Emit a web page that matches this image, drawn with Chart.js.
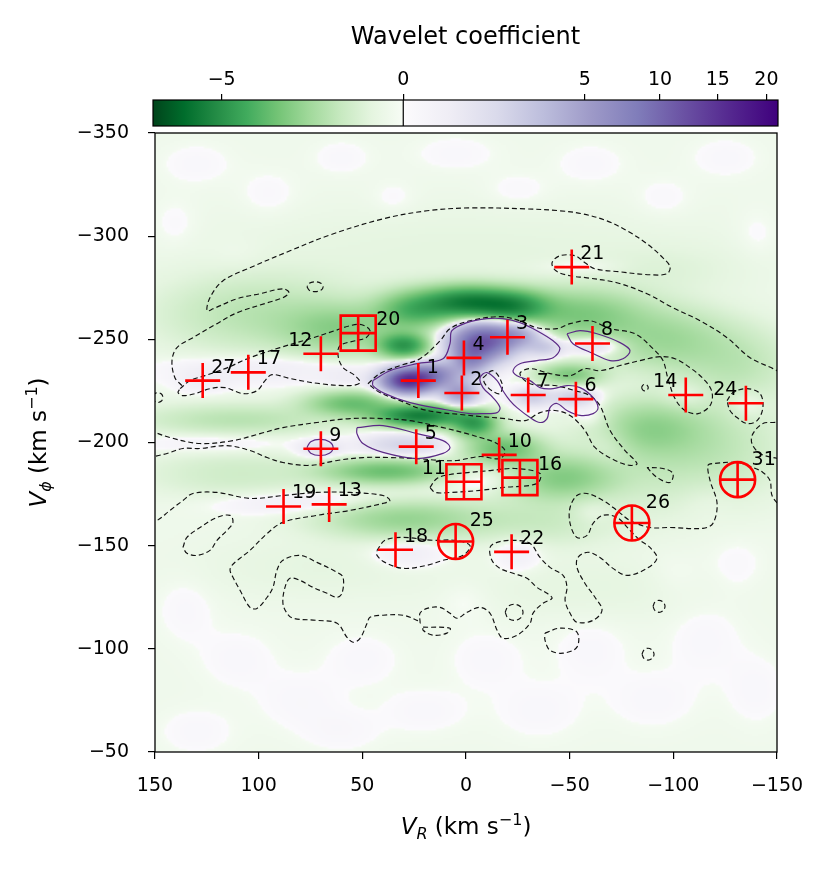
<!DOCTYPE html>
<html>
<head>
<meta charset="utf-8">
<script src="https://cdn.jsdelivr.net/npm/chart.js@4.4.1/dist/chart.umd.min.js"></script>
<style>
  html, body { margin: 0; padding: 0; background: #fff; }
  #wrap { position: relative; width: 830px; height: 869px; }
  #wrap canvas { position: absolute; left: 0; top: 0; }
</style>
</head>
<body>
<div id="wrap">
  <canvas id="main" width="830" height="869"></canvas>
  <canvas id="cbar" width="830" height="135"></canvas>
</div>
<script>
// ---- marked groups ----
const markerId   = [1, 2, 3, 4, 5, 6, 7, 8, 9, 10, 11, 12, 13, 14, 16, 17, 18, 19, 20, 21, 22, 24, 25, 26, 27, 31];
const markerVR   = [23, 2, -20, 1, 24, -53, -30, -61, 70, -16, 1, 70, 66, -106, -26, 105, 34, 88, 52, -51, -22, -135, 5, -80, 127, -131];
const markerVphi = [-230, -224, -251, -241, -198, -221, -223, -248, -197, -194, -181, -243, -170, -223, -183, -234, -148, -169, -253, -285, -147, -219, -152, -161, -230, -182];
const squareIds  = [11, 16, 20];
const circleIds  = [25, 26, 31];
const leftLabelIds = [11, 12, 14, 24];

// ---- colour bar ----
const cbTicks = [-5, 0, 5, 10, 15, 20];
const cMin = -9.5, cMax = 21.3;
const greens  = ['#f7fcf5','#e5f5e0','#c7e9c0','#a1d99b','#74c476','#41ab5d','#238b45','#006d2c','#00441b'];
const purples = ['#fcfbfd','#efedf5','#dadaeb','#bcbddc','#9e9ac8','#807dba','#6a51a3','#54278f','#3f007d'];

// ---- wavelet map, read as smooth blobs (V_R, V_phi, width, height, level) ----
const mapBase = -0.03;
const blobVR     = [28, 15, -8, -25, -38, 3, -2, -32, -52, -62, 30, 70,
                    95, 127, 58, -106, -135, 77, -70, -60, 28, -25, -15, -55, -60, -115, 120,
                    0, -22, 25, 30, 60, -55, -95, 100, -130, 22, -4, 55, -18, -50, -88, 38, 110, 30, -45, -35, -100, 110, 0, -95, -125, 70, -60,
                    130, 95, 60, 35, 5, -25, -60, -95, -125, -140, 140, 110,
                    135, 110, 80, 50, 20, -10, -35, -60, -90, -115, -140, -130, 130, 0, -100, 60];
const blobVphi   = [-230, -233, -249, -252, -246, -224, -240, -222, -222, -247, -199, -197,
                    -236, -230, -231, -222, -219, -171, -200, -213, -147, -147, -183, -285, -167, -175, -200,
                    -268, -266, -264, -247, -255, -262, -250, -262, -238, -213, -209, -219, -197, -233, -207, -186, -211, -163, -183, -162, -190, -185, -292, -283, -200, -140, -130,
                    -335, -320, -338, -318, -340, -322, -335, -318, -338, -300, -305, -290,
                    -120, -95, -75, -95, -70, -95, -70, -100, -75, -105, -80, -140, -60, -125, -135, -60];
const blobWidth  = [8, 8, 10, 8, 6, 6, 6, 6, 7, 9, 13, 7,
                    30, 8, 8, 8, 6, 28, 8, 6, 12, 8, 18, 14, 7, 10, 25,
                    14, 12, 12, 8, 18, 20, 20, 30, 18, 14, 7, 14, 12, 10, 18, 20, 30, 25, 18, 25, 25, 30, 80, 25, 20, 40, 40,
                    12, 10, 10, 8, 14, 11, 12, 10, 12, 8, 8, 10,
                    10, 13, 15, 13, 15, 13, 15, 13, 15, 13, 10, 10, 13, 10, 10, 13];
const blobHeight = [4, 4, 6, 4, 3, 4, 5, 3, 3, 3, 3.5, 3,
                    5, 4, 4, 5, 5, 4, 8, 4, 5, 6, 5, 3, 5, 8, 4,
                    5, 5, 6, 4, 8, 8, 10, 12, 12, 3.5, 4, 4, 5, 3.5, 9, 4, 5, 6, 7, 8, 15, 8, 14, 8, 15, 10, 10,
                    7, 8, 6, 6, 6, 6, 7, 7, 7, 9, 9, 6,
                    12, 10, 10, 9, 8, 10, 10, 12, 10, 14, 12, 10, 8, 8, 8, 7];
const blobLevel  = [15, 6, 11, 4, 2, 5, 5, 2, 2, 1.4, 1.6, 1.0,
                    0.35, 0.3, 0.3, 0.35, 0.35, 0.35, 0.4, 0.4, 0.35, 0.3, 0.45, 0.2, 0.25, 0.15, 0.25,
                    -5.5, -4.5, -3, -4.5, -1.6, -2, -1.3, -0.8, -0.7, -6, -4, -2.5, -2.5, -2, -1.5, -2.5, -0.8, -1.5, -2, -0.5, -0.5, -0.4, -0.12, -0.15, -0.4, -0.1, -0.1,
                    0.06, 0.06, 0.06, 0.06, 0.06, 0.06, 0.06, 0.06, 0.06, 0.06, 0.06, 0.06,
                    0.06, 0.06, 0.06, 0.06, 0.06, 0.06, 0.06, 0.06, 0.06, 0.06, 0.06, 0.06, 0.06, 0.06, 0.06, 0.06];

// ---- zero-level contours (dashed) ----
const contourUpper = [[137,-227.6],[140.4,-231.4],[141.8,-239.7],[139.4,-246],[131.7,-250.8],[120.1,-257.6],[110.4,-262.9],[95.9,-267.7],[88.3,-270.2],[85.4,-272.6],[88.3,-274.5],[99.3,-272.1],[110.4,-269.7],[122,-264.8],[124.9,-263.9],[123.5,-270.2],[117.2,-278.4],[104.2,-284.7],[84.9,-292.9],[65.6,-300.6],[40,-308.4],[18.8,-312.3],[-1.9,-313.7],[-29.4,-313.2],[-45.3,-312.3],[-56.4,-310.8],[-68,-307.4],[-77.7,-302.6],[-87.3,-296.3],[-95,-289.5],[-98.4,-285.2],[-97,-281.8],[-88.7,-281.3],[-74.3,-282.7],[-62.2,-284.2],[-57.4,-287.1],[-52.6,-290.5],[-45.3,-290.5],[-41.5,-287.1],[-43.4,-283.2],[-50.2,-280.8],[-58.4,-279.8],[-72.8,-277.4],[-87.3,-272.1],[-99.8,-265.3],[-112.9,-259],[-125.9,-250.8],[-137,-241.1],[-148.1,-235.8],[-153,-233]];
const contourLeftLobe = [[137.9,-226.1],[133.1,-230],[125.9,-232.4],[116.2,-235.8],[104.2,-241.1],[89.7,-246],[75.2,-250.3],[63.2,-254.2],[55.9,-256.6],[50.2,-257.1],[46.3,-254.2],[48.2,-250.8],[53.5,-249.3],[60.8,-246.9],[61.7,-242.1],[59.3,-236.3],[53.5,-232.4],[51.1,-229],[55.9,-227.6],[70.4,-228.5],[84.9,-231],[93.6,-232.9],[96.9,-230],[100.8,-225.1],[107.6,-223.7],[116.2,-226.6],[123.5,-226.1],[130.7,-223.7],[136.5,-222.7],[138.9,-224.2],[137.9,-226.1]];
const contourCentral = [[47.3,-228.5],[41.5,-233.4],[31.8,-237.3],[22.2,-240.6],[12.5,-249.3],[7.7,-255.2],[-1.9,-259],[-16.4,-261],[-26,-259],[-34.2,-255.6],[-43.9,-255.2],[-50.2,-257.6],[-59.8,-259],[-69.5,-255.2],[-81.5,-252.7],[-90.2,-245.5],[-95,-239.7],[-97.4,-231],[-100.8,-221.3],[-105.6,-215.5],[-111.9,-214],[-117.7,-217.9],[-118.7,-224.2],[-115.3,-230],[-108,-236.3],[-100.8,-240.6],[-93.6,-241.6],[-83.9,-239.7],[-74.3,-237.3],[-64.6,-234.8],[-57.4,-235.8],[-50.2,-232.4],[-40.5,-233.4],[-30.9,-235.8],[-26,-233.4],[-30.9,-228.5],[-42.9,-227.6],[-52.6,-225.1],[-59.8,-222.7],[-64.6,-217.9],[-69.5,-205.8],[-76.7,-196.1],[-82.5,-189.8],[-79.1,-188.9],[-71.9,-191.3],[-62.2,-197.6],[-57.4,-205.8],[-50.2,-213.1],[-42.9,-215.5],[-35.7,-214.5],[-28.5,-210.6],[-18.8,-211.6],[-6.8,-212.6],[2.9,-213.6],[12.5,-214.5],[22.2,-216.4],[31.8,-220.3],[41.5,-224.2],[47.3,-228.5]];
const contourBand = [[152.4,-205.8],[142.8,-202.4],[128.3,-199.5],[112.4,-200.9],[99.3,-204.3],[88.3,-207.2],[71.9,-209.7],[55.9,-211.6],[40,-211.6],[27,-210.6],[11.1,-207.2],[-0.5,-204.3],[-6.8,-202.4],[-14,-200],[-18.8,-196.1],[-16.4,-192.2],[-6.8,-193.2],[4.3,-191.3],[12.5,-191.3],[23.6,-192.2],[36.7,-192.7],[49.7,-192.7],[62.2,-191.3],[75.2,-188.9],[88.3,-190.3],[95.9,-192.7],[104.2,-196.1],[115.3,-198.5],[128.3,-197.1],[136.5,-197.1],[144.2,-194.7],[152.4,-192.7]];
const contourLower = [[152.4,-161.3],[149,-162.2],[142.8,-167.1],[136.5,-171.9],[131.7,-175.3],[120.1,-175.8],[104.2,-172.9],[88.3,-174.3],[71.9,-175.8],[55.9,-175.8],[40,-174.3],[36.7,-171.9],[40,-170.5],[55.9,-167.1],[71.9,-164.7],[88.3,-161.3],[95.9,-155.9],[104.2,-147.7],[109,-143.9],[112.9,-140.5],[113.8,-138.1],[112.4,-134.7],[109,-128.4],[104.2,-120.1],[100.8,-119.6],[95.9,-125],[93.1,-129.8],[91.2,-138.1],[88.3,-142.9],[80.1,-145.3],[71.9,-141.9],[62.2,-137.1],[59.3,-134.7],[59.8,-126.9],[62.2,-125],[67,-126.9],[73.8,-129.8],[80.1,-133.2],[84.9,-134.2],[87.3,-129.8],[88.3,-122.1],[86.3,-117.2],[83.4,-114.8],[71.9,-113.8],[62.2,-112.4],[57.4,-105.6],[54.5,-103.2],[51.1,-105.1],[47.7,-112.4],[46.3,-115.3],[40,-116.3],[30.4,-116.3],[23.6,-113.8],[22.2,-112.4],[22.2,-117.2],[18.8,-119.6],[12.5,-120.1],[7.7,-117.2],[4.3,-114.8],[-0.5,-117.7],[-6.8,-120.1],[-11.6,-117.2],[-15,-109],[-17.8,-105.1],[-24.6,-106.6],[-30.9,-112.4],[-32.3,-117.2],[-37.1,-122.1],[-41.5,-124.5],[-39.1,-126.9],[-34.2,-129.8],[-29.4,-134.2],[-22.7,-136.6],[-16.4,-139],[-12.5,-142.9],[-11.6,-149.2],[-15,-151.6],[-22.7,-152.6],[-30.9,-151.1],[-35.7,-144.3],[-40.5,-139.5],[-46.8,-135.6],[-48.7,-129.8],[-47.8,-123.5],[-50.2,-117.2],[-53.5,-112.9],[-61.3,-113.8],[-65.6,-118.7],[-62.2,-125],[-57.4,-131.7],[-53.5,-139.5],[-54,-144.3],[-58.8,-146.8],[-64.6,-144.3],[-70.9,-139],[-77.7,-135.6],[-87.3,-139],[-92.1,-143.9],[-88.7,-149.2],[-83.9,-152.6],[-79.1,-157.4],[-72.8,-163.7],[-66.1,-164.7],[-61.3,-160.8],[-58.4,-155],[-53.5,-154],[-50.2,-160.8],[-50.2,-168.5],[-53.5,-174.3],[-58.4,-175.3],[-66.1,-171.9],[-72.8,-167.1],[-79.1,-162.2],[-88.7,-158.8],[-98.4,-158.8],[-114.3,-158.4],[-119.1,-160.8],[-121.1,-170.5],[-117.7,-181.6],[-116.7,-188.9],[-119.1,-189.8],[-130.7,-190.3],[-138.4,-187.9],[-143.2,-185.5],[-146.6,-181.6],[-147.6,-174.3],[-151,-169.5]];
const contour18 = [[42.9,-147.7],[39.1,-152.6],[30.4,-154],[15.9,-152.6],[5.3,-152.6],[-1.9,-150.1],[1.4,-145.3],[11.1,-142.9],[18.8,-140.5],[30.4,-139],[39.1,-141.9],[42.9,-145.3],[42.9,-147.7]];
const contour11 = [[17.4,-178.2],[14,-182.6],[7.7,-184.5],[-1.9,-185.5],[-11.6,-186.4],[-23.6,-187.4],[-35.7,-185],[-34.2,-180.1],[-17.8,-178.2],[-6.8,-176.8],[7.7,-175.8],[14.9,-175.8],[17.4,-178.2]];
const contour24 = [[-125.9,-220.3],[-128.8,-224.2],[-135.5,-226.1],[-141.8,-223.7],[-143.2,-216.9],[-140.4,-210.6],[-135.5,-209.2],[-130.7,-212.1],[-127.3,-215.5],[-125.9,-220.3]];
const contourEdge = [[-153,-210],[-148.1,-209.7],[-143.2,-209.2],[-138.4,-204.3],[-137.9,-199.5],[-141.8,-194.7],[-148.1,-192.7],[-153,-192]];
const contourLeftLow = [[136.5,-149.2],[134.6,-154],[128.3,-158.8],[120.1,-163.7],[113.8,-164.7],[112.4,-161.3],[115.3,-157.4],[120.1,-152.6],[123.5,-147.7],[129.7,-145.3],[134.6,-146.3],[136.5,-149.2]];
const contourIn2 = [[-8.2,-231.4],[-13,-234.8],[-17.4,-228.5],[-16.4,-223.7],[-12.5,-225.1],[-9.1,-228.5],[-8.2,-231.4]];
const contourSmall = [
  [[76.7,-275.5],[75.6,-273.8],[72.8,-273.1],[70,-273.8],[68.9,-275.5],[70,-277.2],[72.8,-277.9],[75.6,-277.2],[76.7,-275.5]],
  [[151,-221.8],[150.3,-220.1],[148.6,-219.4],[146.9,-220.1],[146.2,-221.8],[146.9,-223.5],[148.6,-224.2],[150.3,-223.5],[151,-221.8]],
  [[20.7,-110.5],[7.7,-110],[9.2,-107.6],[15.9,-106.6],[20.7,-109],[20.7,-110.5]],
  [[-38.1,-107.6],[-45.3,-110],[-53.5,-108.1],[-53.5,-100.8],[-46.8,-97.9],[-40.5,-99.3],[-38.1,-104.2],[-38.1,-107.6]],
  [[-18.9,-117.7],[-20.2,-114.9],[-23.2,-113.8],[-26.2,-114.9],[-27.5,-117.7],[-26.2,-120.5],[-23.2,-121.6],[-20.2,-120.5],[-18.9,-117.7]],
  [[-90.2,-120.6],[-91.1,-118.6],[-93.1,-117.7],[-95.1,-118.6],[-96,-120.6],[-95.1,-122.6],[-93.1,-123.5],[-91.1,-122.6],[-90.2,-120.6]],
  [[-84.9,-97.4],[-85.8,-95.4],[-87.8,-94.5],[-89.8,-95.4],[-90.7,-97.4],[-89.8,-99.4],[-87.8,-100.3],[-85.8,-99.4],[-84.9,-97.4]],
  [[-84.7,-226.6],[-85.2,-225.5],[-86.3,-225],[-87.4,-225.5],[-87.9,-226.6],[-87.4,-227.7],[-86.3,-228.2],[-85.2,-227.7],[-84.7,-226.6]],
  [[-87.3,-187.9],[-92.1,-183.1],[-98.4,-180.6],[-99.8,-185],[-95,-187.4],[-87.3,-187.9]]
];

// ---- positive-level contours (solid purple) ----
const purpleCentral = [[44.9,-230],[36.7,-234.8],[23.6,-238.2],[11.1,-240.6],[7.7,-247.9],[6.8,-254.2],[-0.5,-258.1],[-10.1,-260],[-17.8,-260],[-26,-258.1],[-34.2,-254.2],[-42,-249.3],[-45.3,-245.5],[-42,-241.1],[-34.2,-239.7],[-26,-238.2],[-22.7,-234.8],[-24.6,-232.4],[-30.9,-230],[-35.7,-226.6],[-42,-226.1],[-48.7,-227.6],[-55,-226.6],[-61.3,-221.8],[-63.7,-216.9],[-61.3,-214],[-55,-213.1],[-48.7,-215.5],[-43.9,-218.9],[-40.5,-216.9],[-39.1,-211.6],[-35.7,-209.7],[-30.9,-212.1],[-24.6,-216.9],[-21.2,-220.3],[-17.8,-225.1],[-15,-230],[-10.1,-233.9],[-6.8,-231.4],[-8.2,-226.6],[-13,-221.8],[-16.4,-216.9],[-15,-214.5],[-8.2,-214],[-1.9,-214],[12.5,-216.4],[27,-219.3],[39.1,-223.7],[44.9,-227.6],[44.9,-230]];
const purple8 = [[-48.7,-252.7],[-55,-254.2],[-63.2,-252.7],[-74.3,-248.4],[-79.1,-244.5],[-75.7,-240.6],[-69.5,-239.7],[-61.3,-243.1],[-51.6,-247.9],[-48.7,-252.7]];
const purple5 = [[52.6,-207.2],[40,-208.2],[23.6,-204.3],[11.1,-200.9],[7.7,-197.6],[11.1,-194.7],[23.6,-192.2],[40,-195.2],[49.7,-199.5],[52.6,-204.3],[52.6,-207.2]];
const purple9 = [[76.7,-197.6],[74.9,-194.8],[70.4,-193.7],[65.9,-194.8],[64.1,-197.6],[65.9,-200.4],[70.4,-201.5],[74.9,-200.4],[76.7,-197.6]];

const dashedContours = [contourUpper, contourLeftLobe, contourCentral, contourBand, contourLower, contour18, contour11,
  contour24, contourEdge, contourLeftLow, contourIn2, ...contourSmall];
const solidContours = [purpleCentral, purple8, purple5, purple9];

Chart.defaults.font.family = "'DejaVu Sans', sans-serif";
Chart.defaults.color = '#000';

const fmt = v => (v < 0 ? '\u2212' + Math.abs(v) : String(v));
const sq = v => Math.sign(v) * Math.sqrt(Math.abs(v));

function hexRgb(h) {
  return [parseInt(h.slice(1, 3), 16), parseInt(h.slice(3, 5), 16), parseInt(h.slice(5, 7), 16)];
}
const greensRgb = greens.map(hexRgb), purplesRgb = purples.map(hexRgb);
function ramp(stops, t) {
  t = Math.max(0, Math.min(1, t)) * (stops.length - 1);
  const i = Math.min(stops.length - 2, Math.floor(t)), f = t - i;
  return stops[i].map((c, k) => c + (stops[i + 1][k] - c) * f);
}
function colourOf(v) {
  return v < 0 ? ramp(greensRgb, Math.sqrt(-v / -cMin)) : ramp(purplesRgb, Math.sqrt(v / cMax));
}

// wavelet map on a 1 km/s grid, VR from 150 down to -150, Vphi from -350 to -50
function buildMap() {
  const n = 301;
  const cv = document.createElement('canvas');
  cv.width = n; cv.height = n;
  const c = cv.getContext('2d');
  const img = c.createImageData(n, n);
  for (let j = 0; j < n; j++) {
    const vp = -350 + j;
    for (let i = 0; i < n; i++) {
      const vr = 150 - i;
      let v = mapBase;
      for (let k = 0; k < blobVR.length; k++) {
        const dx = (vr - blobVR[k]) / blobWidth[k], dy = (vp - blobVphi[k]) / blobHeight[k];
        const e = 0.5 * (dx * dx + dy * dy);
        if (e < 12) v += blobLevel[k] * Math.exp(-e);
      }
      const rgb = colourOf(v), o = (j * n + i) * 4;
      img.data[o] = rgb[0]; img.data[o + 1] = rgb[1]; img.data[o + 2] = rgb[2]; img.data[o + 3] = 255;
    }
  }
  c.putImageData(img, 0, 0);
  return cv;
}

const mapLayer = {
  id: 'mapLayer',
  beforeDatasetsDraw(chart) {
    const { ctx, chartArea: a, scales: { x, y } } = chart;
    if (!this.img) this.img = buildMap();
    const x0 = x.getPixelForValue(150.5), x1 = x.getPixelForValue(-150.5);
    const y0 = y.getPixelForValue(-350.5), y1 = y.getPixelForValue(-49.5);
    ctx.save();
    ctx.beginPath(); ctx.rect(a.left, a.top, a.right - a.left, a.bottom - a.top); ctx.clip();
    ctx.imageSmoothingEnabled = true;
    ctx.drawImage(this.img, x0, y0, x1 - x0, y1 - y0);
    ctx.restore();
  }
};

function mathLabel(ctx, parts, cx, cy, rot, size) {
  const fontOf = p => (p.it ? 'italic ' : '') + Math.round(p.sub || p.sup ? size * 0.7 : size) + "px 'DejaVu Sans'";
  ctx.save();
  ctx.translate(cx, cy); ctx.rotate(rot);
  const ws = parts.map(p => { ctx.font = fontOf(p); return ctx.measureText(p.t).width; });
  let xx = -ws.reduce((s, w) => s + w, 0) / 2;
  ctx.textAlign = 'left'; ctx.textBaseline = 'alphabetic'; ctx.fillStyle = '#000';
  parts.forEach((p, i) => {
    ctx.font = fontOf(p);
    const dy = p.sub ? size * 0.22 : p.sup ? -size * 0.42 : 0;
    ctx.fillText(p.t, xx, size * 0.36 + dy);
    xx += ws[i];
  });
  ctx.restore();
}

const decor = {
  id: 'decor',
  afterDatasetsDraw(chart) {
    const { ctx, scales: { x, y } } = chart;
    ctx.save();
    ctx.font = "19px 'DejaVu Sans'";
    ctx.fillStyle = '#000';
    ctx.textBaseline = 'middle';
    markerId.forEach((id, i) => {
      const px = x.getPixelForValue(markerVR[i]), py = y.getPixelForValue(markerVphi[i]);
      const left = leftLabelIds.includes(id);
      let dx = 8.5, dy = -13;
      if (squareIds.includes(id)) { dx = 18; dy = -13; }
      if (circleIds.includes(id)) { dx = 14; dy = -20; }
      ctx.textAlign = left ? 'right' : 'left';
      ctx.fillText(String(id), left ? px - dx : px + dx, py + dy);
    });
    ctx.restore();
  },
  afterDraw(chart) {
    const { ctx, chartArea: a } = chart;
    ctx.save();
    ctx.strokeStyle = '#000'; ctx.lineWidth = 1.3;
    ctx.strokeRect(a.left, a.top, a.right - a.left, a.bottom - a.top);
    mathLabel(ctx, [{ t: 'V', it: true }, { t: 'R', it: true, sub: true }, { t: ' (km s' }, { t: '\u22121', sup: true }, { t: ')' }],
      (a.left + a.right) / 2, 826, 0, 23);
    mathLabel(ctx, [{ t: 'V', it: true }, { t: '\u03d5', it: true, sub: true }, { t: ' (km s' }, { t: '\u22121', sup: true }, { t: ')' }],
      38, (a.top + a.bottom) / 2, -Math.PI / 2, 23);
    ctx.restore();
  }
};

const toXY = arr => arr.map(p => ({ x: p[0], y: p[1] }));
const pick = ids => markerId.map((id, i) => ids.includes(id) ? { x: markerVR[i], y: markerVphi[i] } : null).filter(Boolean);

const datasets = [
  { data: markerId.map((id, i) => ({ x: markerVR[i], y: markerVphi[i] })), pointStyle: 'cross', pointRadius: 17.5,
    borderColor: '#ff0000', pointBorderWidth: 2.6, backgroundColor: 'rgba(0,0,0,0)', order: 0 },
  { data: pick(squareIds), pointStyle: 'rect', pointRadius: 17.5 / Math.SQRT1_2, borderColor: '#ff0000',
    pointBorderWidth: 2.6, backgroundColor: 'rgba(0,0,0,0)', order: 0 },
  { data: pick(circleIds), pointStyle: 'circle', pointRadius: 17.5, borderColor: '#ff0000',
    pointBorderWidth: 2.6, backgroundColor: 'rgba(0,0,0,0)', order: 0 }
];
dashedContours.forEach(c => datasets.push({ data: toXY(c), showLine: true, pointRadius: 0, borderColor: '#111',
  borderWidth: 1.15, borderDash: [5, 3], tension: 0.35, fill: false, order: 2 }));
solidContours.forEach(c => datasets.push({ data: toXY(c), showLine: true, pointRadius: 0, borderColor: '#5b2a86',
  borderWidth: 1.2, tension: 0.35, fill: false, order: 1 }));

const axisCommon = {
  type: 'linear',
  grid: { drawOnChartArea: false, drawTicks: true, tickLength: 7, color: '#000', lineWidth: 1.2 },
  border: { display: false }
};

new Chart(document.getElementById('main'), {
  type: 'scatter',
  data: { datasets },
  options: {
    responsive: false, animation: false, devicePixelRatio: 1,
    layout: { padding: { left: 0, right: 53, top: 133, bottom: 0 } },
    plugins: { legend: { display: false }, tooltip: { enabled: false } },
    elements: { line: { borderCapStyle: 'butt' } },
    scales: {
      x: { ...axisCommon, min: -150, max: 150, reverse: true,
           ticks: { stepSize: 50, font: { size: 19 }, padding: 16, maxRotation: 0, callback: v => fmt(v) },
           afterFit: s => { s.height = 869 - 752; } },
      y: { ...axisCommon, min: -350, max: -50, reverse: true,
           ticks: { stepSize: 50, font: { size: 19 }, padding: 19, callback: v => fmt(v) },
           afterFit: s => { s.width = 155; } }
    }
  },
  plugins: [mapLayer, decor]
});

// ---- colour bar ----
const barLayer = {
  id: 'barLayer',
  beforeDatasetsDraw(chart) {
    const { ctx, chartArea: a, scales: { x } } = chart;
    const z = x.getPixelForValue(0);
    const g = ctx.createLinearGradient(a.left, 0, a.right, 0);
    const f0 = (z - a.left) / (a.right - a.left);
    greens.slice().reverse().forEach((c, k) => g.addColorStop(f0 * k / (greens.length - 1), c));
    purples.forEach((c, k) => g.addColorStop(f0 + (1 - f0) * k / (purples.length - 1), c));
    ctx.save();
    ctx.fillStyle = g;
    ctx.fillRect(a.left, a.top, a.right - a.left, a.bottom - a.top);
    ctx.strokeStyle = '#000'; ctx.lineWidth = 1.2;
    ctx.beginPath(); ctx.moveTo(z, a.top); ctx.lineTo(z, a.bottom); ctx.stroke();
    ctx.strokeRect(a.left, a.top, a.right - a.left, a.bottom - a.top);
    ctx.restore();
  }
};

new Chart(document.getElementById('cbar'), {
  type: 'scatter',
  data: { datasets: [] },
  options: {
    responsive: false, animation: false, devicePixelRatio: 1,
    layout: { padding: { left: 153, right: 52, top: 14, bottom: 9 } },
    plugins: { legend: { display: false }, tooltip: { enabled: false } },
    scales: {
      x: { type: 'linear', position: 'top', min: sq(cMin), max: sq(cMax),
           afterBuildTicks: s => { s.ticks = cbTicks.map(v => ({ value: sq(v) })); },
           ticks: { font: { size: 19 }, padding: 3, maxRotation: 0, autoSkip: false,
                    callback: v => fmt(Math.round(Math.sign(v) * v * v)) },
           grid: { drawOnChartArea: false, tickLength: 6, color: '#000', lineWidth: 1.2 },
           border: { display: false },
           title: { display: true, text: 'Wavelet coefficient', font: { size: 24 }, padding: { top: 9, bottom: 0 } },
           afterFit: s => { s.height = 86; } },
      y: { display: false, min: 0, max: 1 }
    }
  },
  plugins: [barLayer]
});
</script>
</body>
</html>
